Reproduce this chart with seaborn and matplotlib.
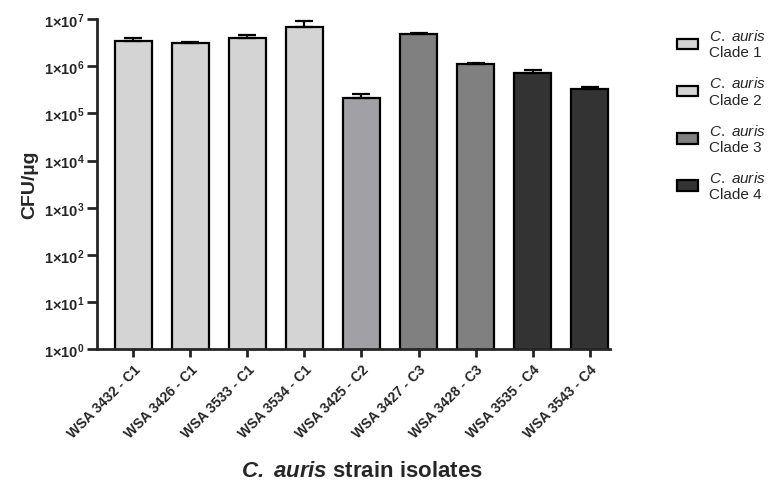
import matplotlib
matplotlib.use("Agg")
import matplotlib.pyplot as plt
from matplotlib.patches import Patch
from matplotlib.ticker import FixedLocator, FixedFormatter, NullLocator
import seaborn as sns

strains = ["WSA 3432 - C1", "WSA 3426 - C1", "WSA 3533 - C1", "WSA 3534 - C1",
           "WSA 3425 - C2", "WSA 3427 - C3", "WSA 3428 - C3", "WSA 3535 - C4",
           "WSA 3543 - C4"]
clades = ["Clade 1", "Clade 1", "Clade 1", "Clade 1", "Clade 2", "Clade 3",
          "Clade 3", "Clade 4", "Clade 4"]
cfu = [3.4e6, 3.1e6, 4.0e6, 7.0e6, 2.1e5, 4.8e6, 1.1e6, 7.1e5, 3.3e5]
cfu_err = [0.5e6, 0.15e6, 0.6e6, 2.1e6, 0.5e5, 0.3e6, 0.1e6, 1.2e5, 0.3e5]

bar_colors = {"Clade 1": "#d4d4d4", "Clade 2": "#a1a1a5", "Clade 3": "#808080", "Clade 4": "#333333"}
legend_colors = {"Clade 1": "#d4d4d4", "Clade 2": "#d4d4d4", "Clade 3": "#808080", "Clade 4": "#333333"}
decades = list(range(0, 8))

sns.set_style("ticks")
plt.rcParams["font.family"] = ["Liberation Sans", "DejaVu Sans"]
plt.rcParams["mathtext.fontset"] = "custom"
plt.rcParams["mathtext.rm"] = "Liberation Sans"
plt.rcParams["mathtext.it"] = "Liberation Sans:italic"
plt.rcParams["mathtext.bf"] = "Liberation Sans:bold"
plt.rcParams["mathtext.bfit"] = "Liberation Sans:italic:bold"

fig = plt.figure(figsize=(7.71, 4.81), dpi=100)
ax = fig.add_axes([0.126, 0.272, 0.665, 0.686])
ax.set_yscale("log", nonpositive="clip")

palette = [bar_colors[c] for c in clades]
sns.barplot(x=strains, y=cfu, hue=strains, palette=palette, legend=False,
            width=0.65, edgecolor="black", linewidth=1.6, ax=ax)
ax.errorbar(range(len(strains)), cfu, yerr=[[0] * len(cfu), cfu_err], fmt="none",
            ecolor="black", elinewidth=1.6, capsize=6.5, capthick=1.6, zorder=1)

ax.set_ylim(1, 1e7)
ax.set_xlim(-0.63, 8.35)
ax.yaxis.set_major_locator(FixedLocator([10 ** d for d in decades]))
ax.yaxis.set_major_formatter(FixedFormatter([r"$\mathbf{1{\times}10^{%d}}$" % d for d in decades]))
ax.yaxis.set_minor_locator(NullLocator())
ax.tick_params(axis="y", labelsize=10.5, width=2, length=7, pad=2)
ax.tick_params(axis="x", labelsize=10, width=2, length=6, pad=3)
for lbl in ax.get_xticklabels():
    lbl.set_rotation(45)
    lbl.set_ha("right")
    lbl.set_rotation_mode("anchor")
    lbl.set_fontweight("bold")

sns.despine(ax=ax)
for s in ["left", "bottom"]:
    ax.spines[s].set_linewidth(2)

ax.set_ylabel("CFU/µg", fontsize=14, fontweight="bold", labelpad=4)
ax.set_xlabel(r"$\mathbfit{C.}$ $\mathbfit{auris}$ strain isolates", fontsize=16, fontweight="bold")
ax.xaxis.set_label_coords(0.517, -0.336)

handles = [Patch(facecolor=legend_colors[c], edgecolor="black", linewidth=1.6) for c in legend_colors]
labels = [r"$\mathit{C.}$ $\mathit{auris}$" + "\n" + c for c in legend_colors]
fig.legend(handles, labels, loc="upper left", bbox_to_anchor=(0.86, 0.968), frameon=False,
           fontsize=11, handlelength=1.4, handleheight=0.7, labelspacing=1.05, handletextpad=0.7)

fig.savefig("out.png", dpi=100)
